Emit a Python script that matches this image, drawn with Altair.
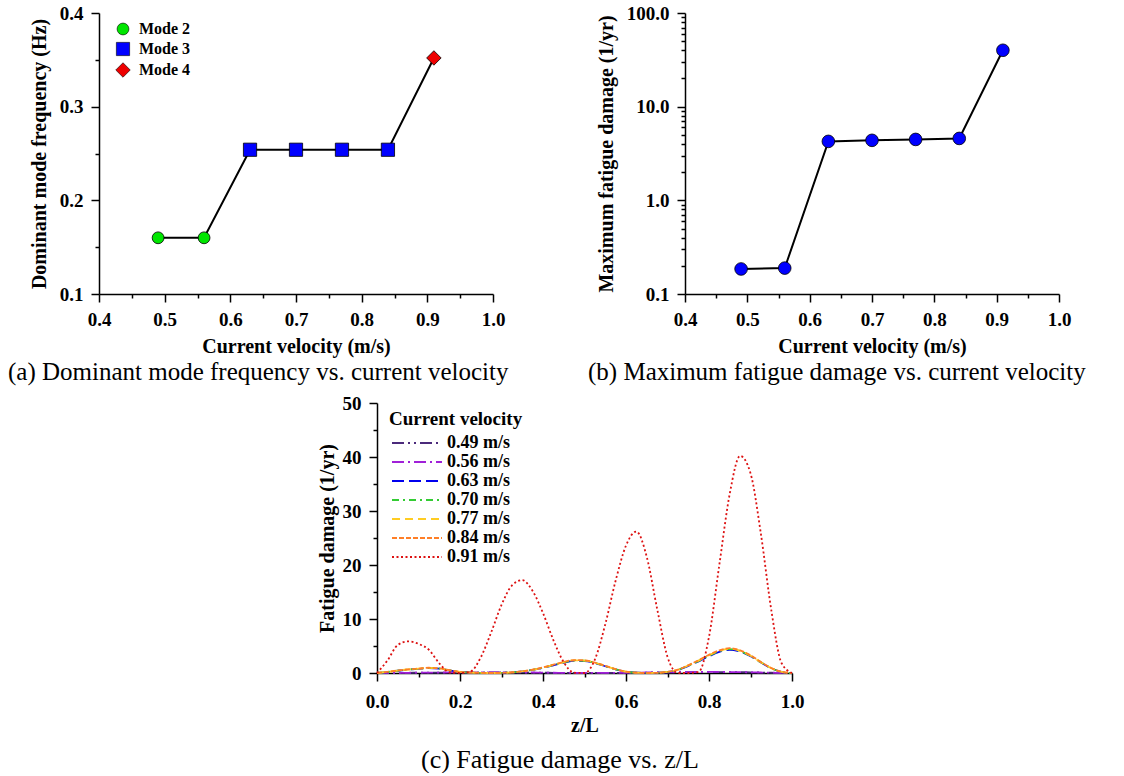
import altair as alt
import pandas as pd

FONT = "Liberation Serif"

# ---------------- data ----------------
velocity = [0.49, 0.56, 0.63, 0.70, 0.77, 0.84, 0.91]
frequency = [0.16, 0.16, 0.254, 0.254, 0.254, 0.254, 0.352]
mode = ["Mode 2", "Mode 2", "Mode 3", "Mode 3", "Mode 3", "Mode 3", "Mode 4"]
max_damage = [0.185, 0.189, 4.26, 4.37, 4.47, 4.58, 40.0]

mode_names = ["Mode 2", "Mode 3", "Mode 4"]
mode_colors = ["#00e600", "#0000ff", "#ee0000"]
mode_shapes = ["circle", "square", "diamond"]
mode_sizes = [140, 210, 125]

z_over_L = [0.000, 0.025, 0.050, 0.075, 0.100, 0.125, 0.150, 0.175, 0.200, 0.225,
            0.250, 0.275, 0.300, 0.325, 0.350, 0.375, 0.400, 0.425, 0.450, 0.475,
            0.500, 0.525, 0.550, 0.575, 0.600, 0.625, 0.650, 0.675, 0.700, 0.725,
            0.750, 0.775, 0.800, 0.825, 0.850, 0.875, 0.900, 0.925, 0.950, 0.975,
            1.000]

damage_049 = [0, 0.01, 0.02, 0.04, 0.05, 0.07, 0.08, 0.09, 0.10, 0.11,
              0.12, 0.12, 0.12, 0.11, 0.10, 0.08, 0.06, 0.04, 0.03, 0.02,
              0.01, 0.01, 0.02, 0.03, 0.04, 0.06, 0.08, 0.10, 0.12, 0.14,
              0.16, 0.17, 0.18, 0.18, 0.17, 0.15, 0.12, 0.09, 0.05, 0.02,
              0]
damage_056 = [0, 0.01, 0.03, 0.04, 0.06, 0.07, 0.09, 0.10, 0.11, 0.12,
              0.12, 0.13, 0.12, 0.12, 0.10, 0.09, 0.07, 0.05, 0.03, 0.02,
              0.01, 0.01, 0.02, 0.03, 0.05, 0.07, 0.09, 0.11, 0.13, 0.15,
              0.17, 0.18, 0.19, 0.19, 0.18, 0.16, 0.13, 0.09, 0.06, 0.02,
              0]
damage_063 = [0, 0.18, 0.42, 0.62, 0.76, 0.90, 0.80, 0.48, 0.19, 0.07,
              0.02, 0, 0.02, 0.09, 0.28, 0.57, 0.95, 1.42, 1.90, 2.25,
              2.22, 1.85, 1.25, 0.68, 0.24, 0.05, 0, 0.02, 0.18, 0.55,
              1.30, 2.15, 3.10, 3.90, 4.30, 3.95, 3.10, 1.95, 0.88, 0.20,
              0]
damage_070 = [0, 0.19, 0.44, 0.64, 0.78, 0.93, 0.83, 0.49, 0.20, 0.08,
              0.02, 0, 0.02, 0.10, 0.29, 0.59, 0.98, 1.47, 1.96, 2.31,
              2.27, 1.88, 1.28, 0.69, 0.25, 0.05, 0, 0.02, 0.19, 0.58,
              1.36, 2.24, 3.22, 4.02, 4.42, 4.05, 3.16, 1.98, 0.89, 0.20,
              0]
damage_077 = [0, 0.20, 0.45, 0.65, 0.80, 0.95, 0.85, 0.50, 0.20, 0.08,
              0.02, 0, 0.02, 0.10, 0.30, 0.60, 1.00, 1.50, 2.00, 2.35,
              2.30, 1.90, 1.30, 0.70, 0.25, 0.05, 0, 0.02, 0.20, 0.60,
              1.40, 2.30, 3.30, 4.10, 4.50, 4.10, 3.20, 2.00, 0.90, 0.20,
              0]
damage_084 = [0, 0.21, 0.46, 0.67, 0.82, 0.97, 0.87, 0.52, 0.21, 0.08,
              0.02, 0, 0.02, 0.10, 0.31, 0.62, 1.03, 1.54, 2.05, 2.40,
              2.35, 1.94, 1.33, 0.72, 0.26, 0.05, 0, 0.02, 0.21, 0.62,
              1.44, 2.36, 3.38, 4.20, 4.60, 4.20, 3.28, 2.05, 0.92, 0.21,
              0]
damage_091 = [0, 2.3, 5.2, 5.85, 5.4, 4.3, 1.8, 0.1, 0, 0.25,
              2.9, 7.5, 12.6, 16.2, 17.2, 15.2, 11.1, 6.1, 2.0, 0.05,
              0, 2.5, 9.0, 17.1, 23.6, 26.2, 21.5, 11.9, 3.0, 0,
              0, 0.2, 6.7, 20.1, 33.2, 40.2, 37.0, 25.8, 11.7, 1.8,
              0]

series_labels = ["0.49 m/s", "0.56 m/s", "0.63 m/s", "0.70 m/s",
                 "0.77 m/s", "0.84 m/s", "0.91 m/s"]
series_values = [damage_049, damage_056, damage_063, damage_070,
                 damage_077, damage_084, damage_091]
series_colors = ["#4b2a7b", "#a020d8", "#0000ee", "#33cc33",
                 "#ffcc22", "#ff7f27", "#dd1111"]
series_dashes = [[12, 4, 2, 4, 2, 4], [12, 4, 2, 4], [12, 5], [7, 4, 2, 4],
                 [8, 5], [5, 2], [2, 2.5]]

x_ticks_ab = [0.4, 0.45, 0.5, 0.55, 0.6, 0.65, 0.7, 0.75, 0.8, 0.85, 0.9, 0.95, 1.0]
y_ticks_a = [0.1, 0.15, 0.2, 0.25, 0.3, 0.35, 0.4]
y_ticks_b = [0.1, 0.2, 0.3, 0.4, 0.5, 0.6, 0.7, 0.8, 0.9,
             1, 2, 3, 4, 5, 6, 7, 8, 9,
             10, 20, 30, 40, 50, 60, 70, 80, 90, 100]
x_ticks_c = [0.0, 0.1, 0.2, 0.3, 0.4, 0.5, 0.6, 0.7, 0.8, 0.9, 1.0]
y_ticks_c = [0, 5, 10, 15, 20, 25, 30, 35, 40, 45, 50]


# ---------------- helpers ----------------
def make_axis(values, major_test, fmt, title, label_pad=8, title_pad=8):
    return alt.Axis(
        values=values,
        labelExpr=f"({major_test}) ? format(datum.value, '{fmt}') : ''",
        tickSize={"condition": {"test": major_test, "value": 8}, "value": 4},
        title=title,
        grid=False,
        domainColor="black", domainWidth=1.5,
        tickColor="black", tickWidth=1.5,
        labelFont=FONT, labelFontSize=19, labelFontWeight="bold", labelColor="black",
        labelPadding=label_pad, labelOverlap=False, labelFlush=False, labelBound=False,
        titleFont=FONT, titleFontSize=20, titleFontWeight="bold", titleColor="black",
        titlePadding=title_pad,
    )


def caption(text, dx, offset=4, size=25):
    return alt.TitleParams(text=text, orient="bottom", anchor="start", frame="group",
                           dx=dx, offset=offset, font=FONT, fontSize=size,
                           fontWeight="normal", color="black")


tenth = "abs(datum.value*10 - round(datum.value*10)) < 0.001"
decade = "abs(log(datum.value)/LN10 - round(log(datum.value)/LN10)) < 0.001"
fifth = "abs(datum.value*5 - round(datum.value*5)) < 0.001"
tens = "datum.value % 10 == 0"

# ---------------- panel (a) ----------------
df_a = pd.DataFrame({"velocity": velocity, "frequency": frequency, "mode": mode})
xa = alt.X("velocity:Q", scale=alt.Scale(domain=[0.4, 1.0], nice=False, zero=False),
           axis=make_axis(x_ticks_ab, tenth, ".1f", "Current velocity (m/s)", 8, 7))
ya = alt.Y("frequency:Q", scale=alt.Scale(domain=[0.1, 0.4], nice=False, zero=False),
           axis=make_axis(y_ticks_a, tenth, ".1f", "Dominant mode frequency (Hz)", 8, 10))

legend_a = alt.Legend(orient="none", legendX=16, legendY=8, title=None, padding=0,
                      symbolSize=85, symbolStrokeColor="black", symbolStrokeWidth=0.6,
                      labelFont=FONT, labelFontSize=16, labelFontWeight="bold",
                      labelColor="black", labelOffset=8, rowPadding=4)

line_a = alt.Chart(df_a).mark_line(color="black", strokeWidth=2).encode(x=xa, y=ya)
pts_a = alt.Chart(df_a).mark_point(filled=True, stroke="black", strokeWidth=0.8,
                                   opacity=1).encode(
    x=xa, y=ya,
    color=alt.Color("mode:N", scale=alt.Scale(domain=mode_names, range=mode_colors),
                    legend=legend_a),
    shape=alt.Shape("mode:N", scale=alt.Scale(domain=mode_names, range=mode_shapes),
                    legend=legend_a),
    size=alt.Size("mode:N", scale=alt.Scale(domain=mode_names, range=mode_sizes),
                  legend=None),
)
chart_a = alt.layer(line_a, pts_a).properties(
    width=394, height=281,
    title=caption("(a) Dominant mode frequency vs. current velocity", -91))

# ---------------- panel (b) ----------------
df_b = pd.DataFrame({"velocity": velocity, "damage": max_damage})
xb = alt.X("velocity:Q", scale=alt.Scale(domain=[0.4, 1.0], nice=False, zero=False),
           axis=make_axis(x_ticks_ab, tenth, ".1f", "Current velocity (m/s)", 8, 7))
yb = alt.Y("damage:Q", scale=alt.Scale(type="log", domain=[0.1, 100], nice=False),
           axis=make_axis(y_ticks_b, decade, ".1f", "Maximum fatigue damage (1/yr)", 8, 10))
line_b = alt.Chart(df_b).mark_line(color="black", strokeWidth=2).encode(x=xb, y=yb)
pts_b = alt.Chart(df_b).mark_point(filled=True, fill="#0000ff", stroke="black",
                                   strokeWidth=0.8, size=160, opacity=1).encode(x=xb, y=yb)
chart_b = alt.layer(line_b, pts_b).properties(
    width=374, height=281,
    title=caption("(b) Maximum fatigue damage vs. current velocity", -97))

# ---------------- panel (c) ----------------
rows = []
for lab, vals in zip(series_labels, series_values):
    for zz, dd in zip(z_over_L, vals):
        rows.append({"z": zz, "damage": dd, "series": lab})
df_c = pd.DataFrame(rows)

legend_c = alt.Legend(orient="none", legendX=12, legendY=7, title="Current velocity",
                      titleFont=FONT, titleFontSize=19, titleFontWeight="bold",
                      titleColor="black", titlePadding=5, padding=0,
                      labelFont=FONT, labelFontSize=18, labelFontWeight="bold",
                      labelColor="black", symbolType="M-5,0H5", symbolSize=100,
                      symbolStrokeWidth=2, symbolOffset=19, labelOffset=21,
                      rowPadding=1)

chart_c = alt.Chart(df_c).mark_line(strokeWidth=1.8, interpolate="monotone").encode(
    x=alt.X("z:Q", scale=alt.Scale(domain=[0, 1], nice=False),
            axis=make_axis(x_ticks_c, fifth, ".1f", "z/L", 11, 4)),
    y=alt.Y("damage:Q", scale=alt.Scale(domain=[0, 50], nice=False),
            axis=make_axis(y_ticks_c, tens, "d", "Fatigue damage (1/yr)", 8, 5)),
    color=alt.Color("series:N", scale=alt.Scale(domain=series_labels, range=series_colors),
                    legend=legend_c),
    strokeDash=alt.StrokeDash("series:N",
                              scale=alt.Scale(domain=series_labels, range=series_dashes),
                              legend=legend_c),
).properties(width=415, height=270,
             title=caption("(c) Fatigue damage vs. z/L", 44, offset=12, size=26))

spacer = alt.Chart(pd.DataFrame({"v": [0]})).mark_point(opacity=0).properties(
    width=218, height=10)

indep_s = dict(color="independent", shape="independent", size="independent",
               strokeDash="independent", x="independent", y="independent")
indep_l = dict(color="independent", shape="independent", size="independent",
               strokeDash="independent")

top = alt.hconcat(chart_a, chart_b, spacing=79).resolve_scale(**indep_s).resolve_legend(**indep_l)
bottom = alt.hconcat(spacer, chart_c, spacing=0).resolve_scale(**indep_s).resolve_legend(**indep_l)

chart = alt.vconcat(top, bottom, spacing=9).resolve_scale(**indep_s).resolve_legend(
    **indep_l).properties(
    padding={"left": 8, "top": 4, "right": 0, "bottom": 0},
    background="white",
).configure_view(stroke=None)

chart.save("out.html", embed_options={"renderer": "svg", "actions": False})
